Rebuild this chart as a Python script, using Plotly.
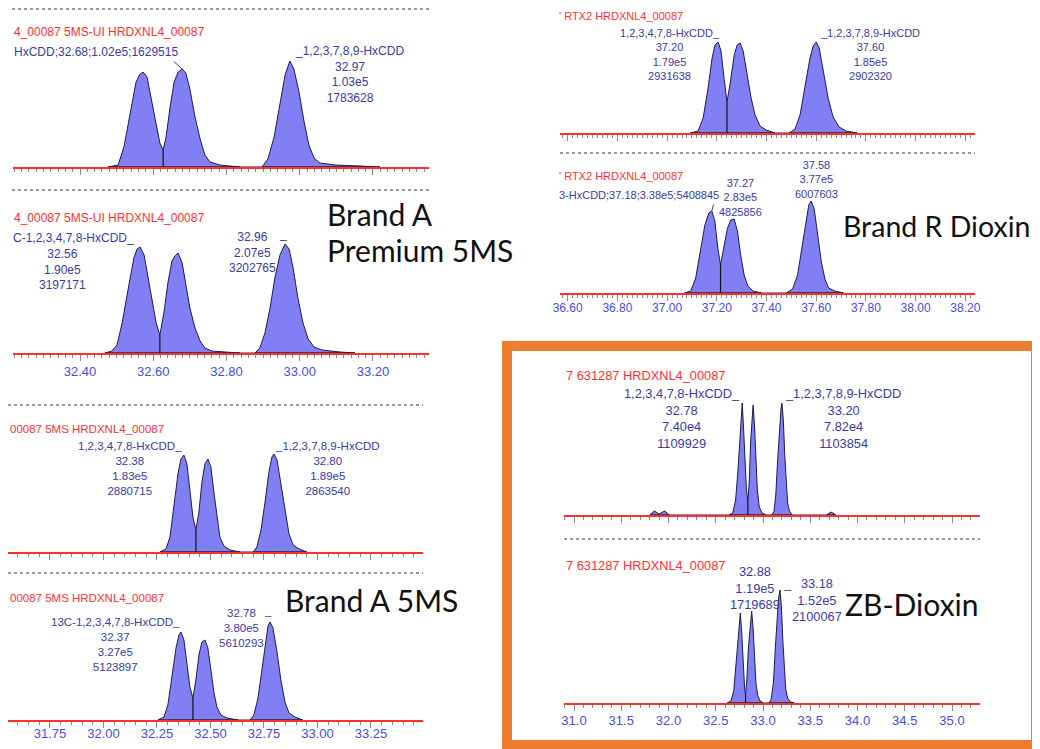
import plotly.graph_objects as go

# page body has an 8px margin, so the figure is drawn 8px in from the window edge
OFF = 8
W, H = 1040 - OFF, 749 - OFF

# ---------------- data ----------------
# retention time (min) and relative signal height for each chromatogram trace
# Brand A Premium 5MS (upper trace)
p1_rt = [32.476, 32.504, 32.520, 32.537, 32.553, 32.564, 32.572, 32.583, 32.594, 32.608,
         32.618, 32.627, 32.635, 32.646, 32.657, 32.668, 32.679, 32.689, 32.700, 32.714,
         32.728, 32.741, 32.755, 32.782, 32.810, 32.837, 32.897, 32.913, 32.930, 32.946,
         32.960, 32.973, 32.984, 32.998, 33.012, 33.025, 33.039, 33.055, 33.096, 33.165, 33.219]
p1_int = [0, 2, 20, 55, 85, 93, 95, 90, 70, 42,
          24, 17, 30, 60, 85, 95, 98, 94, 78, 50,
          28, 12, 5, 2, 1, 0, 0, 8, 30, 65,
          92, 106, 98, 75, 45, 22, 9, 4, 2, 1, 0]
# Brand A Premium 5MS (lower trace, 13C)
p2_rt = [32.468, 32.487, 32.501, 32.515, 32.531, 32.547, 32.556, 32.564, 32.575, 32.586,
         32.597, 32.608, 32.618, 32.629, 32.640, 32.651, 32.659, 32.668, 32.679, 32.689,
         32.700, 32.714, 32.728, 32.741, 32.760, 32.796, 32.837, 32.878, 32.891, 32.905,
         32.919, 32.932, 32.946, 32.960, 32.971, 32.982, 32.995, 33.009, 33.023, 33.039,
         33.061, 33.110, 33.151]
p2_int = [0, 2, 8, 30, 63, 95, 104, 106, 98, 75,
          50, 30, 18, 40, 70, 92, 97, 100, 90, 70,
          45, 25, 12, 5, 2, 1, 0, 0, 5, 20,
          45, 75, 98, 109, 104, 85, 55, 30, 14, 6,
          3, 1, 0]
# Brand A 5MS (upper trace)
p3_rt = [32.264, 32.292, 32.311, 32.329, 32.348, 32.362, 32.376, 32.390, 32.404, 32.418,
         32.432, 32.446, 32.460, 32.474, 32.488, 32.502, 32.516, 32.530, 32.544, 32.563,
         32.591, 32.638, 32.699, 32.717, 32.736, 32.755, 32.773, 32.787, 32.797, 32.811,
         32.829, 32.848, 32.867, 32.886, 32.914, 32.951]
p3_int = [0, 3, 15, 45, 78, 93, 97, 88, 62, 35,
          22, 40, 70, 88, 93, 85, 60, 35, 15, 6,
          2, 0, 0, 5, 22, 50, 80, 95, 98, 92,
          68, 40, 18, 7, 3, 0]
# Brand A 5MS (lower trace, 13C)
p4_rt = [32.255, 32.283, 32.301, 32.320, 32.339, 32.353, 32.362, 32.376, 32.390, 32.404,
         32.418, 32.432, 32.446, 32.460, 32.474, 32.488, 32.502, 32.516, 32.530, 32.549,
         32.577, 32.629, 32.685, 32.703, 32.722, 32.741, 32.760, 32.769, 32.778, 32.792,
         32.811, 32.829, 32.848, 32.867, 32.895, 32.932]
p4_int = [0, 3, 15, 42, 72, 85, 88, 80, 58, 33,
          22, 40, 65, 78, 80, 72, 50, 28, 13, 5,
          2, 0, 0, 5, 22, 52, 82, 94, 98, 92,
          68, 40, 18, 7, 3, 0]
# Brand R Dioxin (upper trace)
p5_rt = [37.093, 37.125, 37.145, 37.165, 37.181, 37.193, 37.205, 37.217, 37.229, 37.241,
         37.254, 37.270, 37.282, 37.294, 37.306, 37.322, 37.338, 37.354, 37.374, 37.398,
         37.435, 37.491, 37.515, 37.535, 37.555, 37.575, 37.588, 37.600, 37.612, 37.628,
         37.648, 37.668, 37.692, 37.720, 37.765]
p5_int = [0, 2, 15, 45, 75, 88, 91, 82, 55, 31,
          50, 78, 88, 90, 82, 60, 35, 18, 7, 3,
          0, 0, 4, 18, 45, 75, 87, 91, 85, 62,
          35, 16, 6, 2, 0]
# Brand R Dioxin (lower trace, 13C)
p6_rt = [37.070, 37.095, 37.115, 37.135, 37.152, 37.168, 37.180, 37.192, 37.204, 37.215,
         37.228, 37.242, 37.256, 37.270, 37.283, 37.296, 37.310, 37.325, 37.345, 37.380,
         37.480, 37.505, 37.525, 37.543, 37.558, 37.570, 37.580, 37.592, 37.606, 37.620,
         37.635, 37.650, 37.675, 37.710]
p6_int = [0, 2, 15, 42, 68, 80, 82, 72, 45, 28,
          45, 64, 73, 74, 62, 38, 18, 7, 2, 0,
          0, 4, 18, 45, 72, 88, 92, 84, 58, 32,
          14, 5, 2, 0]
# ZB-Dioxin (upper trace)
p7_rt = [31.80, 31.85, 31.90, 31.96, 32.01,
         32.64, 32.68, 32.71, 32.735, 32.755, 32.77, 32.78, 32.795, 32.81, 32.825,
         32.84, 32.855, 32.87, 32.885, 32.895, 32.91, 32.925, 32.94, 32.96, 32.99, 33.03,
         33.09, 33.115, 33.135, 33.155, 33.175, 33.19, 33.20, 33.215, 33.23, 33.245,
         33.26, 33.28, 33.31,
         33.67, 33.72, 33.77]
p7_int = [0, 4, 1, 4, 0,
          0, 2, 15, 45, 80, 102, 112, 85, 50, 25,
          14, 35, 75, 100, 110, 90, 55, 25, 8, 2, 0,
          0, 3, 20, 55, 90, 106, 112, 95, 60, 30,
          12, 4, 0,
          0, 3, 0]
# ZB-Dioxin (lower trace, 13C)
p8_rt = [32.62, 32.66, 32.69, 32.715, 32.735, 32.75, 32.76, 32.775, 32.79, 32.805,
         32.815, 32.83, 32.845, 32.865, 32.88, 32.895, 32.91, 32.925, 32.945, 32.97,
         33.00, 33.06, 33.085, 33.11, 33.13, 33.15, 33.165, 33.18, 33.195, 33.21,
         33.225, 33.24, 33.26, 33.29, 33.33]
p8_int = [0, 2, 12, 40, 70, 85, 90, 70, 38, 15,
          8, 25, 55, 82, 92, 75, 45, 20, 7, 2,
          0, 0, 3, 20, 55, 88, 105, 113, 95, 62,
          32, 14, 5, 1, 0]

# header / peak label texts
hdr_5msui = "4_00087 5MS-UI HRDXNL4_00087"
hdr_5ms = "00087 5MS HRDXNL4_00087"
hdr_rtx = "' RTX2 HRDXNL4_00087"
hdr_zb = "7 631287 HRDXNL4_00087"

# ---------------- styling ----------------
FILL = "#8080f4"
OUT = "#1c1c4c"
RED = "#ff3030"
NAVY = "#3a3aa6"
TICKBLUE = "#4a4ae8"
LF = "Liberation Sans, Arial, sans-serif"
BF = "Lato, Open Sans, sans-serif"
D = 125  # vertical pixels per panel (y range)


def fx(x):
    return (x - OFF) / W


def fy(y):
    return 1 - (y - OFF) / H


panels = [
    dict(rt=p1_rt, it=p1_int, x0=13, x1=429, base=167, rng=[32.217, 33.353], dt=0.2, mdt=0.02, fmt=".2f", lab=False, tf=13, so=0),
    dict(rt=p2_rt, it=p2_int, x0=13, x1=429, base=353, rng=[32.217, 33.353], dt=0.2, mdt=0.02, fmt=".2f", lab=True, tf=13, so=0),
    dict(rt=p3_rt, it=p3_int, x0=8, x1=423, base=552, rng=[31.554, 33.493], dt=0.25, mdt=0.05, fmt=".2f", lab=False, tf=13, so=0),
    dict(rt=p4_rt, it=p4_int, x0=8, x1=423, base=720, rng=[31.554, 33.493], dt=0.25, mdt=0.05, fmt=".2f", lab=True, tf=13, so=-5),
    dict(rt=p5_rt, it=p5_int, x0=560, x1=975, base=133, rng=[36.569, 38.239], dt=0.2, mdt=0.02, fmt=".2f", lab=False, tf=12, so=0),
    dict(rt=p6_rt, it=p6_int, x0=560, x1=975, base=293, rng=[36.569, 38.239], dt=0.2, mdt=0.02, fmt=".2f", lab=True, tf=12, so=-3),
    dict(rt=p7_rt, it=p7_int, x0=564, x1=980, base=515, rng=[30.894, 35.296], dt=0.5, mdt=0.1, fmt=".1f", lab=False, tf=13, so=0),
    dict(rt=p8_rt, it=p8_int, x0=564, x1=980, base=703, rng=[30.894, 35.296], dt=0.5, mdt=0.1, fmt=".1f", lab=True, tf=13, so=-1),
]


def outline(x, y):
    xs, ys = [], []
    prev = None
    for i in range(len(y)):
        near = y[i] > 0 or (i > 0 and y[i - 1] > 0) or (i + 1 < len(y) and y[i + 1] > 0)
        if near:
            if prev is not None and prev != i - 1:
                xs.append(None); ys.append(None)
            xs.append(x[i]); ys.append(y[i])
            prev = i
    return xs, ys


def baseline_segments(x, y):
    xs, ys = [], []
    start = None
    for i in range(len(y)):
        if start is None and i + 1 < len(y) and y[i + 1] > 0:
            start = x[i]
        if start is not None and i > 0 and y[i] == 0 and y[i - 1] > 0:
            xs += [start, x[i], None]
            ys += [0, 0, None]
            start = None
    return xs, ys


def valleys(y):
    return [i for i in range(1, len(y) - 1) if y[i] < y[i - 1] and y[i] < y[i + 1] and y[i] >= 5]


def apexes(y):
    return [i for i in range(1, len(y) - 1) if y[i] > y[i - 1] and y[i] >= y[i + 1] and y[i] >= 50]


fig = go.Figure()
axes = {}
for k, p in enumerate(panels, start=1):
    xa = "x" if k == 1 else f"x{k}"
    ya = "y" if k == 1 else f"y{k}"
    xs, ys = p["rt"], p["it"]
    fig.add_trace(go.Scatter(x=xs, y=ys, mode="lines", fill="tozeroy", fillcolor=FILL,
                             line=dict(width=0, color=FILL), xaxis=xa, yaxis=ya, hoverinfo="skip"))
    ox, oy = outline(xs, ys)
    fig.add_trace(go.Scatter(x=ox, y=oy, mode="lines", line=dict(color=OUT, width=1),
                             xaxis=xa, yaxis=ya, hoverinfo="skip"))
    bx, by = baseline_segments(xs, ys)
    fig.add_trace(go.Scatter(x=bx, y=by, mode="lines", line=dict(color="#252525", width=1.5),
                             xaxis=xa, yaxis=ya, hoverinfo="skip"))
    for j in valleys(ys):
        fig.add_trace(go.Scatter(x=[xs[j], xs[j]], y=[0, ys[j]], mode="lines",
                                 line=dict(color="#111111", width=1.2), xaxis=xa, yaxis=ya, hoverinfo="skip"))
    xk = "xaxis" if k == 1 else f"xaxis{k}"
    yk = "yaxis" if k == 1 else f"yaxis{k}"
    axes[xk] = dict(domain=[max(0, fx(p["x0"])), min(1, fx(p["x1"]))], range=p["rng"], anchor=ya,
                    automargin=False,
                    showline=True, linecolor=RED, linewidth=1.5, layer="below traces",
                    ticks="outside", ticklen=6, tickwidth=1, tickcolor="#8a8a8a",
                    tick0=0, dtick=p["dt"], tickformat=p["fmt"], showticklabels=p["lab"],
                    ticklabelstandoff=p["so"],
                    tickfont=dict(family=LF, size=p["tf"], color=TICKBLUE),
                    minor=dict(dtick=p["mdt"], tick0=0, ticks="outside", ticklen=3,
                               tickcolor="#8a8a8a", showgrid=False),
                    showgrid=False, zeroline=False, fixedrange=True)
    axes[yk] = dict(domain=[fy(p["base"]), min(1, fy(p["base"] - D))], range=[0, D],
                    anchor=xa, visible=False, fixedrange=True, automargin=False)

fig.update_layout(**axes)


def txt(s, x, y, color=NAVY, size=12, xanchor="left", family=LF, align="left"):
    return dict(text=s, x=fx(x), y=fy(y), xref="paper", yref="paper", xanchor=xanchor,
                yanchor="middle", showarrow=False, align=align,
                font=dict(family=family, size=size, color=color))


ann = []
# panel 1
S = 12
ann.append(txt(hdr_5msui, 12, 32, RED, S))
ann.append(txt("HxCDD;32.68;1.02e5;1629515", 12, 52, size=S))
ann.append(txt("_1,2,3,7,8,9-HxCDD<br>32.97<br>1.03e5<br>1783628", 349, 75, size=S, xanchor="center", align="center"))
# panel 2
ann.append(txt(hdr_5msui, 12, 218, RED, S))
ann.append(txt("C-1,2,3,4,7,8-HxCDD_", 11, 238, size=S))
ann.append(txt("32.56<br>1.90e5<br>3197171", 62, 269, size=S, xanchor="center", align="center"))
ann.append(txt("32.96<br>2.07e5<br>3202765", 252, 252, size=S, xanchor="center", align="center"))
ann.append(txt("_", 283, 234, size=S, xanchor="center"))
# panel 3
S = 11.5
ann.append(txt(hdr_5ms, 8, 429, RED, S))
ann.append(txt("1,2,3,4,7,8-HxCDD_<br>32.38<br>1.83e5<br>2880715", 130, 468, size=S, xanchor="center", align="center"))
ann.append(txt("_1,2,3,7,8,9-HxCDD<br>32.80<br>1.89e5<br>2863540", 327, 468, size=S, xanchor="center", align="center"))
# panel 4
ann.append(txt(hdr_5ms, 8, 598, RED, S))
ann.append(txt("13C-1,2,3,4,7,8-HxCDD_<br>32.37<br>3.27e5<br>5123897", 115, 644, size=S, xanchor="center", align="center"))
ann.append(txt("32.78<br>3.80e5<br>5610293", 241, 628, size=S, xanchor="center", align="center"))
ann.append(txt("_", 268, 611, size=S, xanchor="center"))
# panel 5
S = 11
ann.append(txt(hdr_rtx, 557, 16, RED, S))
ann.append(txt("1,2,3,4,7,8-HxCDD_<br>37.20<br>1.79e5<br>2931638", 670, 54, size=S, xanchor="center", align="center"))
ann.append(txt("_1,2,3,7,8,9-HxCDD<br>37.60<br>1.85e5<br>2902320", 870, 54, size=S, xanchor="center", align="center"))
# panel 6
ann.append(txt(hdr_rtx, 557, 176, RED, S))
ann.append(txt("3-HxCDD;37.18;3.38e5;5408845", 557, 195, size=S))
ann.append(txt("37.27<br>2.83e5<br>4825856", 740, 198, size=S, xanchor="center", align="center"))
ann.append(txt("37.58<br>3.77e5<br>6007603", 816, 179, size=S, xanchor="center", align="center"))
# panel 7
S = 12.8
ann.append(txt(hdr_zb, 564, 375, RED, S))
ann.append(txt("1,2,3,4,7,8-HxCDD_<br>32.78<br>7.40e4<br>1109929", 682, 418, size=S, xanchor="center", align="center"))
ann.append(txt("_1,2,3,7,8,9-HxCDD<br>33.20<br>7.82e4<br>1103854", 843, 418, size=S, xanchor="center", align="center"))
# panel 8
ann.append(txt(hdr_zb, 564, 565, RED, S))
ann.append(txt("32.88<br>1.19e5<br>1719689", 755, 588, size=S, xanchor="center", align="center"))
ann.append(txt("33.18<br>1.52e5<br>2100067", 817, 600, size=S, xanchor="center", align="center"))
ann.append(txt("_", 787, 583, size=S, xanchor="center"))

# leader lines from labels to peak apex
a1 = apexes(p1_int)[1]
ann.append(dict(x=p1_rt[a1], y=p1_int[a1], xref="x", yref="y", text="", showarrow=True,
                arrowhead=0, arrowwidth=1, arrowcolor=NAVY, ax=-10, ay=-9, standoff=0))
a6 = apexes(p6_int)[0]
ann.append(dict(x=p6_rt[a6], y=p6_int[a6], xref="x6", yref="y6", text="", showarrow=True,
                arrowhead=0, arrowwidth=1, arrowcolor=NAVY, ax=2, ay=-8, standoff=0))

# big column names
ann.append(txt("Brand A", 325, 214, "#111111", 30, family=BF))
ann.append(txt("Premium 5MS", 325, 250, "#111111", 30, family=BF))
ann.append(txt("Brand A 5MS", 283, 600, "#111111", 30, family=BF))
ann.append(txt("Brand R Dioxin", 841, 226, "#111111", 28.5, family=BF))
ann.append(txt("ZB-Dioxin", 843, 604, "#111111", 30, family=BF))

shapes = []


def dotted(x0, x1, y):
    return dict(type="line", xref="paper", yref="paper", x0=fx(x0), x1=fx(x1), y0=fy(y), y1=fy(y),
                line=dict(color="#9a9a9a", width=2, dash="dot"))


for (x0, x1, y) in [(12, 430, 9), (12, 430, 190), (8, 423, 405), (8, 423, 573),
                    (560, 975, 153), (564, 980, 539)]:
    shapes.append(dotted(x0, x1, y))

shapes.append(dict(type="rect", xref="paper", yref="paper", x0=fx(507), x1=fx(1036),
                   y0=fy(745), y1=fy(346), line=dict(color="#ed7d31", width=10),
                   fillcolor="rgba(0,0,0,0)", layer="above"))

fig.update_layout(width=W, height=H,
                  margin=dict(l=0, r=0, t=0, b=0, pad=0, autoexpand=False),
                  paper_bgcolor="white", plot_bgcolor="rgba(0,0,0,0)",
                  showlegend=False, annotations=ann, shapes=shapes)

fig.write_html("out.html")
